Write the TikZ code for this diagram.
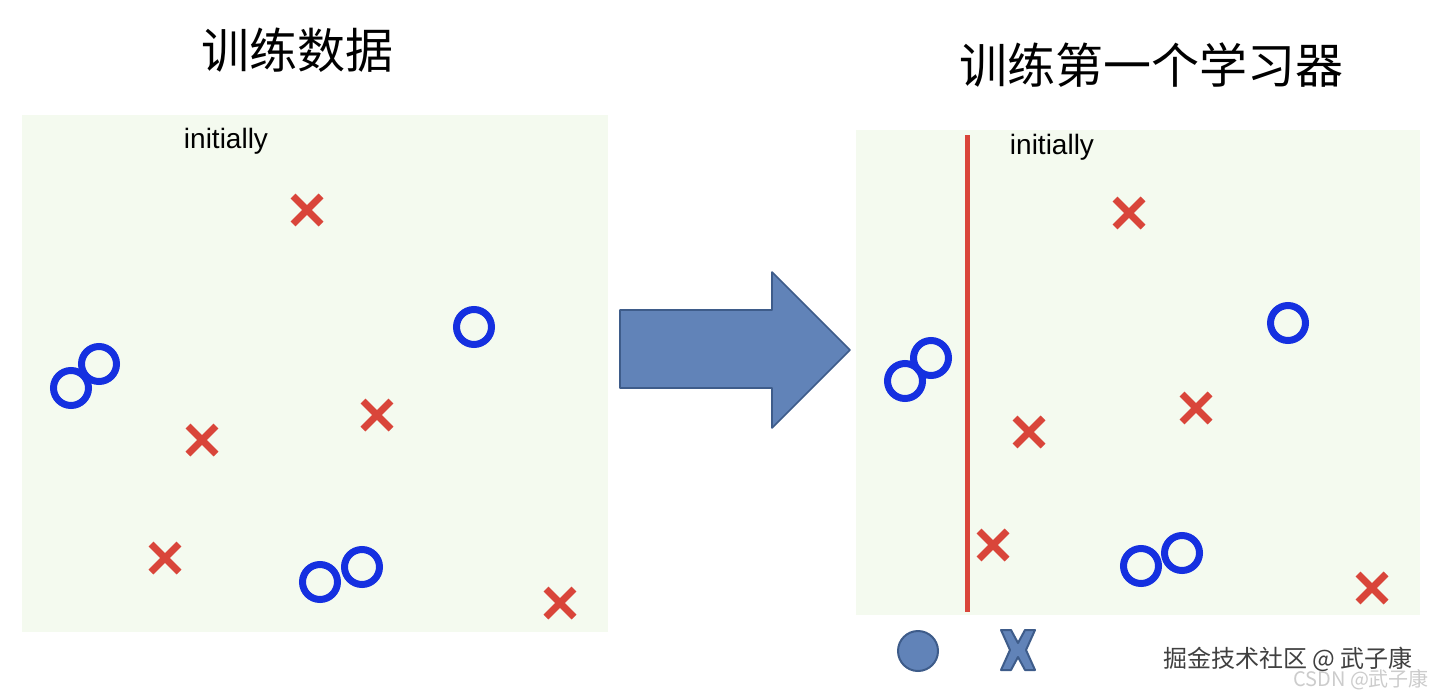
\documentclass[tikz,border=0pt]{standalone}
\usepackage{fontspec}
\setmainfont{Liberation Sans}
\newfontfamily\cjk{Noto Sans CJK SC}
\begin{document}
\begin{tikzpicture}[x=0.5pt,y=-0.5pt]
\definecolor{pan}{HTML}{F4FAEF}
\definecolor{xr}{HTML}{D9453A}
\definecolor{ob}{HTML}{1530E0}
\definecolor{ar}{HTML}{6183B8}
\definecolor{ard}{HTML}{3E5C8A}
\tikzset{
 xm/.style={xr,line width=3.5pt},
 om/.style={draw=ob,line width=3.5pt,circle,minimum size=17.5pt,inner sep=0pt},
 lab/.style={font=\fontsize{14}{16}\selectfont},
 ttl/.style={font=\cjk\fontsize{24}{27}\selectfont}
}
\useasboundingbox (0,0) rectangle (1440,696);
\fill[white] (0,0) rectangle (1440,696);
\node[fill=pan,minimum width=293pt,minimum height=258.5pt,inner sep=0pt] (lp) at (315,373.5) {};
\node[fill=pan,minimum width=282pt,minimum height=242.5pt,inner sep=0pt] (rp) at (1138,372.5) {};
\node[ttl] (t1) at (297,50) {训练数据};
\node[ttl] (t2) at (1151,65) {训练第一个学习器};
\node[lab] (i1) at (226,141) {initially};
\node[lab] (i2) at (1052,147) {initially};
\newcommand\cross[2]{\draw[xm] (#1-14,#2-14) -- (#1+14,#2+14) (#1-14,#2+14) -- (#1+14,#2-14);}
\foreach \a/\b in {307/210,202/440,377/415,165/558,560/603,1129/213,1029/432,1196/408,993/545,1372/588}{\cross{\a}{\b}}
\foreach \a/\b [count=\i] in {71/388,99/364,474/327,320/582,362/567,905/381,931/358,1288/323,1141/566,1182/553}{\node[om] (o\i) at (\a,\b) {};}
\coordinate (lt) at (967,135); \coordinate (lb) at (967,612);
\draw[xr,line width=2.5pt] (lt) -- (lb);
\draw[ard,fill=ar,line width=0.8pt,line join=round] (620,310) -- (772,310) -- (772,272) -- (850,350) -- (772,428) -- (772,388) -- (620,388) -- cycle;
\node[circle,fill=ar,draw=ard,line width=1pt,minimum size=20pt,inner sep=0pt] (bc) at (918,651) {};
\draw[ard,fill=ar,line width=1pt,line join=round,shift={(1018,650)}]
 (-17,-20) -- (-7,-20) -- (0,-7) -- (7,-20) -- (17,-20) -- (8,0) -- (17,20) -- (7,20) -- (0,7) -- (-7,20) -- (-17,20) -- (-8,0) -- cycle;
\node[font=\cjk\fontsize{10}{12}\selectfont,text=black!20,anchor=east] (wm2) at (1436,680) {CSDN @武子康};
\node[font=\cjk\fontsize{12}{14}\selectfont,text=black!75] (wm) at (1288,659) {掘金技术社区 @ 武子康};
\end{tikzpicture}
\end{document}
